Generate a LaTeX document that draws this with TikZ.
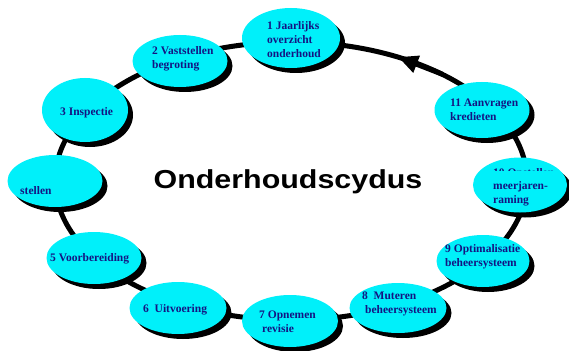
\documentclass[tikz,border=0pt]{standalone}
\usepackage{fontspec}
\setmainfont{Liberation Serif}
\newfontfamily\titlefont{Liberation Sans}
\usetikzlibrary{shapes.geometric,shadows,arrows.meta}
\definecolor{ringcyan}{RGB}{0,240,250}
\definecolor{labelnavy}{RGB}{20,20,130}
\begin{document}
\begin{tikzpicture}[x=1pt,y=-1pt,
  phase/.style={ellipse, fill=ringcyan, inner sep=0pt,
    drop shadow={shadow xshift=5pt, shadow yshift=-5pt, fill=black, opacity=1}},
  steplabel/.style={font=\bfseries\fontsize{11.5}{14}\selectfont, text=labelnavy,
    align=left, inner sep=0pt, anchor=west},
  ring/.style={line width=5pt, black}]
\useasboundingbox (0,0) rectangle (569,350);
\fill[white] (0,0) rectangle (569,350);
% cycle ring
\draw[ring] (291,181) ellipse [x radius=236, y radius=139];
\coordinate (arrS) at (443,74.5);
\coordinate (arrE) at (398,57);
\draw[ring, -{Triangle[length=20pt,width=17pt]}] (arrS) -- (arrE);
% phases
\node[phase, minimum width=98pt, minimum height=60pt] (p1) at (291,38) {};
\node[phase, minimum width=95pt, minimum height=52pt] (p2) at (180,61) {};
\node[phase, minimum width=86pt, minimum height=64pt] (p3) at (85,110) {};
\node[phase, minimum width=95pt, minimum height=52pt] (p4) at (55,181) {};
\node[phase, minimum width=95pt, minimum height=52pt] (p5) at (94,258) {};
\node[phase, minimum width=97pt, minimum height=52pt] (p6) at (178,308) {};
\node[phase, minimum width=96pt, minimum height=52pt] (p7) at (290,321) {};
\node[phase, minimum width=97pt, minimum height=50pt] (p8) at (398,308) {};
\node[phase, minimum width=93pt, minimum height=52pt] (p9) at (483,261) {};
\node[phase, minimum width=94pt, minimum height=55pt] (p10) at (520,185) {};
\node[phase, minimum width=95pt, minimum height=56pt] (p11) at (482,110) {};
% labels
\node[steplabel] (t1) at (267,40) {1 Jaarlijks\\overzicht\\onderhoud};
\node[steplabel] (t2) at (152,59) {2 Vaststellen\\begroting};
\node[steplabel] (t3) at (60,113) {3 Inspectie};
\node[steplabel] (t4) at (20,191) {stellen};
\node[steplabel] (t5) at (50,259) {5 Voorbereiding};
\node[steplabel] (t6) at (143,310) {6\ \ Uitvoering};
\node[steplabel] (t7) at (259,322) {7 Opnemen\\\hspace{3pt}revisie};
\node[steplabel] (t8) at (362,304) {8\ \ Muteren\\\hspace{3pt}beheersysteem};
\node[steplabel] (t9) at (445,257) {9 Optimalisatie\\beheersysteem};
\node[steplabel] (t10) at (493,194) {meerjaren-\\raming};
\begin{scope}
  \clip (470,150) rectangle (569,170.5);
  \node[steplabel, anchor=base west] (t10a) at (493,176) {10 Opstellen};
\end{scope}
\node[steplabel] (t11) at (450,110) {11 Aanvragen\\kredieten};
% title
\node[text=black, inner sep=0pt,
  font=\titlefont\bfseries\fontsize{26}{26}\selectfont] (title) at (288,182)
  {\scalebox{1.17}[1]{Onderhoudscydus}};
\end{tikzpicture}
\end{document}
